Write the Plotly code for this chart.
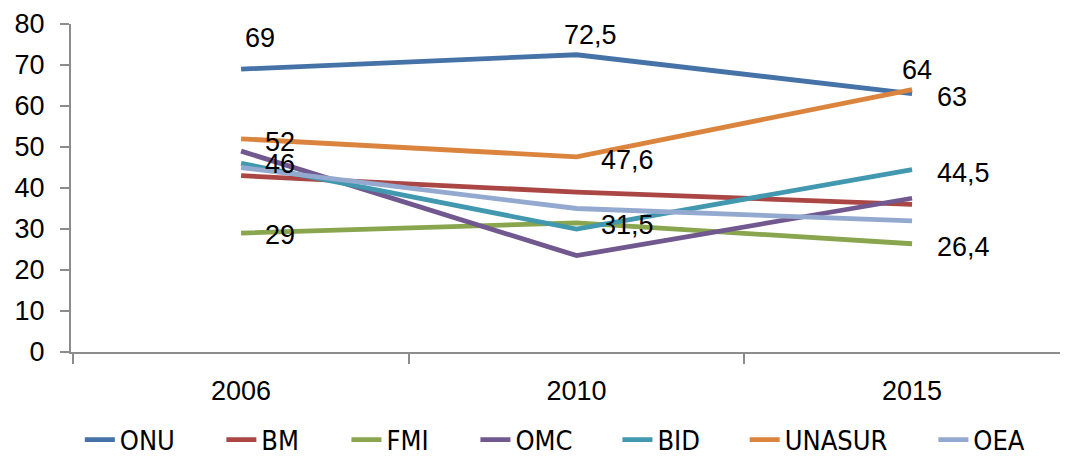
import plotly.graph_objects as go

# ── data ────────────────────────────────────────────────────────────────────
years = ["2006", "2010", "2015"]

onu = [69, 72.5, 63]
bm = [43, 39, 36]
fmi = [29, 31.5, 26.4]
omc = [49, 23.5, 37.5]
bid = [46, 30, 44.5]
unasur = [52, 47.6, 64]
oea = [45, 35, 32]

series = [
    ("ONU", onu, "#4572A7"),
    ("BM", bm, "#AA4643"),
    ("FMI", fmi, "#89A54E"),
    ("OMC", omc, "#71588F"),
    ("BID", bid, "#4198AF"),
    ("UNASUR", unasur, "#DB843D"),
    ("OEA", oea, "#93A9CF"),
]

# which points carry a value label, and where it sits (xshift, yshift, anchor)
labels = {
    "ONU": {0: (19, 31, "center"), 1: (14, 20, "center"), 2: (23, -3, "left")},
    "UNASUR": {0: (22, -3, "left"), 1: (22, -3, "left"), 2: (5, 20, "center")},
    "BID": {0: (22, -1, "left"), 2: (23, -3, "left")},
    "FMI": {0: (22, -2, "left"), 1: (22, -2, "left"), 2: (23, -3, "left")},
}

# one legend box per series so the entries spread like the original (paper x of centre)
legend_x = [0.060, 0.194, 0.323, 0.461, 0.597, 0.756, 0.921]

AXIS_GREY = "#8C8C8C"
LABEL_FONT = dict(family="Liberation Sans, Arial, sans-serif", size=27, color="#000000")
LEGEND_FONT = dict(family="Liberation Sans Narrow, DejaVu Sans Condensed, sans-serif",
                   size=27, color="#000000")

fig = go.Figure()

for i, (name, vals, color) in enumerate(series):
    fig.add_trace(go.Scatter(
        x=years, y=vals,
        mode="lines",
        name=name,
        line=dict(color=color, width=4.8),
        legend="legend" if i == 0 else f"legend{i + 1}",
        hoverinfo="skip",
    ))

# value labels — x as category index so "2006" isn't read as a position
for name, vals, color in series:
    for idx, (dx, dy, anchor) in labels.get(name, {}).items():
        fig.add_annotation(
            x=idx, y=vals[idx],
            xref="x", yref="y",
            text=f"{vals[idx]:g}".replace(".", ","),
            showarrow=False,
            xanchor=anchor, yanchor="middle",
            xshift=dx, yshift=dy,
            font=LABEL_FONT,
        )

legends = {}
for i, lx in enumerate(legend_x):
    key = "legend" if i == 0 else f"legend{i + 1}"
    legends[key] = dict(
        orientation="h",
        x=lx, xanchor="center",
        # container ref keeps the legend from pushing the bottom margin
        yref="container", y=0.04, yanchor="middle",
        font=LEGEND_FONT,
        bgcolor="rgba(0,0,0,0)",
    )

# page has an 8px body margin, so the figure is 16px smaller than the window
fig.update_layout(
    width=1052, height=450,
    paper_bgcolor="white", plot_bgcolor="white",
    margin=dict(l=63, r=0, t=16, b=106),
    font=LABEL_FONT,
    showlegend=True,
    xaxis=dict(
        type="category",
        range=[-0.507, 2.441],
        showline=True, linecolor=AXIS_GREY, linewidth=2,
        ticks="outside", tickson="boundaries", ticklen=10,
        tickcolor=AXIS_GREY, tickwidth=2,
        showgrid=False, zeroline=False,
        ticklabelstandoff=14,
        tickfont=LABEL_FONT,
    ),
    yaxis=dict(
        range=[0, 80], dtick=10,
        showline=True, linecolor=AXIS_GREY, linewidth=2,
        ticks="outside", ticklen=9,
        tickcolor=AXIS_GREY, tickwidth=2,
        showgrid=False, zeroline=False,
        ticklabelstandoff=10,
        tickfont=LABEL_FONT,
    ),
    **legends,
)

fig.write_html("out.html")
